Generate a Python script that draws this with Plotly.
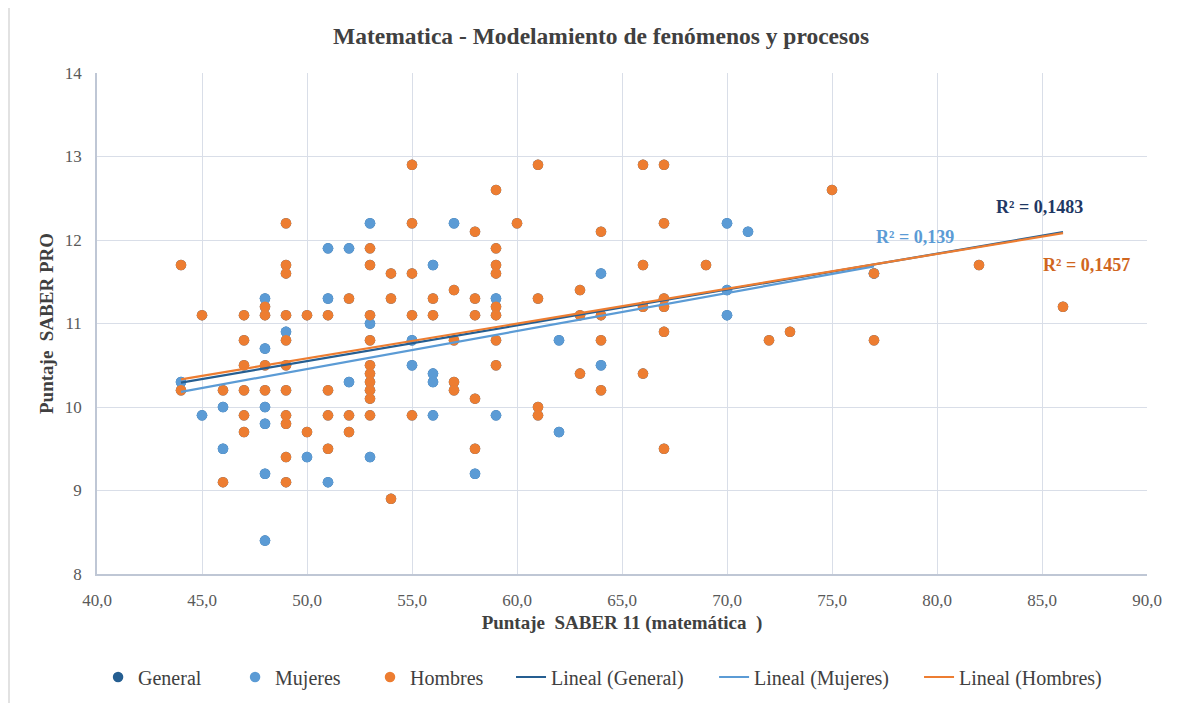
import plotly.graph_objects as go

# Mujeres (blue)
muj_x = [44, 45, 46, 46, 48, 48, 48, 48, 48, 48, 49, 50, 51, 51, 51, 52, 52, 53, 53, 53,
         55, 55, 56, 56, 56, 56, 57, 58, 59, 59, 62, 62, 64, 64, 70, 70, 70, 71, 77]
muj_y = [10.3, 9.9, 10.0, 9.5, 11.3, 10.7, 10.0, 9.8, 9.2, 8.4, 10.9, 9.4, 11.9, 11.3, 9.1, 11.9, 10.3, 12.2, 11.0, 9.4,
         10.8, 10.5, 11.7, 10.4, 10.3, 9.9, 12.2, 9.2, 11.3, 9.9, 10.8, 9.7, 11.6, 10.5, 12.2, 11.4, 11.1, 12.1, 11.6]

# Hombres (orange)
hom_x = [44, 44, 45, 46, 46, 47, 47, 47, 47, 47, 47, 48, 48, 48, 48,
         49, 49, 49, 49, 49, 49, 49, 49, 49, 49, 49, 50, 50, 51, 51, 51, 51,
         52, 52, 52, 53, 53, 53, 53, 53, 53, 53, 53, 53, 53, 54, 54, 54,
         55, 55, 55, 55, 55, 56, 56, 57, 57, 57, 57, 58, 58, 58, 58, 58,
         59, 59, 59, 59, 59, 59, 59, 59, 60, 61, 61, 61, 61, 63, 63, 63,
         64, 64, 64, 64, 66, 66, 66, 66, 67, 67, 67, 67, 67, 67, 69, 72, 73, 75, 77, 77, 82, 86]
hom_y = [11.7, 10.2, 11.1, 10.2, 9.1, 11.1, 10.8, 10.5, 10.2, 9.9, 9.7, 11.2, 11.1, 10.5, 10.2,
         12.2, 11.7, 11.6, 11.1, 10.8, 10.5, 10.2, 9.9, 9.8, 9.4, 9.1, 11.1, 9.7, 11.1, 10.2, 9.9, 9.5,
         11.3, 9.9, 9.7, 11.9, 11.7, 11.1, 10.8, 10.5, 10.4, 10.3, 10.2, 10.1, 9.9, 11.6, 11.3, 8.9,
         12.9, 12.2, 11.6, 11.1, 9.9, 11.3, 11.1, 11.4, 10.8, 10.3, 10.2, 12.1, 11.3, 11.1, 10.1, 9.5,
         12.6, 11.9, 11.7, 11.6, 11.2, 11.1, 10.8, 10.5, 12.2, 12.9, 11.3, 10.0, 9.9, 11.4, 11.1, 10.4,
         12.1, 11.1, 10.8, 10.2, 12.9, 11.7, 11.2, 10.4, 12.9, 12.2, 11.3, 11.2, 10.9, 9.5, 11.7, 10.8, 10.9, 12.6, 11.6, 10.8, 11.7, 11.2]

# General = all students
gen_x = muj_x + hom_x
gen_y = muj_y + hom_y

# Linear trend lines as displayed in the chart (General, Mujeres, Hombres)
trend_names = ["Lineal (General)", "Lineal (Mujeres)", "Lineal (Hombres)"]
trend_slope = [0.0429, 0.0455, 0.0417]
trend_intercept = [8.404, 8.18, 8.497]
r2_labels = ["R² = 0,1483", "R² = 0,139", "R² = 0,1457"]

x_ticks = [40, 45, 50, 55, 60, 65, 70, 75, 80, 85, 90]
x_tick_text = ["40,0", "45,0", "50,0", "55,0", "60,0", "65,0", "70,0", "75,0", "80,0", "85,0", "90,0"]
y_ticks = [8, 9, 10, 11, 12, 13, 14]

C_GEN = "#255E91"
C_MUJ = "#5B9BD5"
C_HOM = "#ED7D31"
FONT = "Liberation Serif"

# one legend box per entry, so the entries can be spaced like the original
legend_ids = ["legend", "legend2", "legend3", "legend4", "legend5", "legend6"]
legend_x = [0.001, 0.1315, 0.2600, 0.3943, 0.5877, 0.7829]

fig = go.Figure()
mk = dict(size=10.5, line=dict(width=0))
fig.add_trace(go.Scatter(x=gen_x, y=gen_y, mode="markers", name="General",
                         marker=dict(color=C_GEN, **mk), legend=legend_ids[0]))
fig.add_trace(go.Scatter(x=muj_x, y=muj_y, mode="markers", name="Mujeres",
                         marker=dict(color=C_MUJ, **mk), legend=legend_ids[1]))
fig.add_trace(go.Scatter(x=hom_x, y=hom_y, mode="markers", name="Hombres",
                         marker=dict(color=C_HOM, **mk), legend=legend_ids[2]))

series_x = [gen_x, muj_x, hom_x]
trend_colors = [C_GEN, C_MUJ, C_HOM]
for i, (name, m, b, xs, col) in enumerate(zip(trend_names, trend_slope, trend_intercept, series_x, trend_colors)):
    xr = [min(xs), max(xs)]
    fig.add_trace(go.Scatter(x=xr, y=[m * v + b for v in xr], mode="lines", name=name,
                             line=dict(color=col, width=2.2), legend=legend_ids[3 + i]))

ann_font = dict(family=FONT, size=18)
fig.add_annotation(x=84.9, y=12.395, text="<b>" + r2_labels[0] + "</b>", showarrow=False,
                   xanchor="center", yanchor="middle", font=dict(color="#1F3864", **ann_font))
fig.add_annotation(x=78.95, y=12.036, text="<b>" + r2_labels[1] + "</b>", showarrow=False,
                   xanchor="center", yanchor="middle", font=dict(color=C_MUJ, **ann_font))
fig.add_annotation(x=87.14, y=11.70, text="<b>" + r2_labels[2] + "</b>", showarrow=False,
                   xanchor="center", yanchor="middle", font=dict(color="#D0661E", **ann_font))

# outer chart border
fig.add_shape(type="rect", xref="paper", yref="paper", x0=-0.0838, y0=-0.40, x1=1.2, y1=1.1337,
              line=dict(color="#D9D9D9", width=1.5), fillcolor="rgba(0,0,0,0)", layer="below")

legend_style = dict(orientation="h", xanchor="left", yref="container", y=0.0374, yanchor="middle",
                    font=dict(family=FONT, size=20, color="#404040"),
                    bgcolor="rgba(0,0,0,0)", itemwidth=30)
legend_layout = {lid: dict(x=lx, **legend_style) for lid, lx in zip(legend_ids, legend_x)}

fig.update_layout(
    width=1176, height=695,
    margin=dict(l=89, r=37, t=65, b=129, autoexpand=False),
    paper_bgcolor="white", plot_bgcolor="white",
    title=dict(text="<b>Matematica - Modelamiento de fenómenos y procesos</b>",
               x=0.5043, xanchor="center", y=0.9595, yanchor="middle",
               font=dict(family=FONT, size=23.5, color="#404040")),
    font=dict(family=FONT, size=16, color="#595959"),
    showlegend=True,
    **legend_layout,
)
fig.update_xaxes(range=[40, 90], tickvals=x_ticks, ticktext=x_tick_text,
                 showgrid=True, gridcolor="#D9DEE8", gridwidth=1,
                 showline=True, linecolor="#BFC7D5", linewidth=1.5,
                 zeroline=False, ticks="", ticklabelstandoff=10,
                 tickfont=dict(family=FONT, size=17, color="#595959"),
                 title=dict(text="<b>Puntaje  SABER 11 (matemática  )</b>", standoff=7,
                            font=dict(family=FONT, size=19, color="#404040")))
fig.update_yaxes(range=[8, 14], tickvals=y_ticks,
                 showgrid=True, gridcolor="#D9DEE8", gridwidth=1,
                 showline=True, linecolor="#BFC7D5", linewidth=1.5,
                 zeroline=False, ticks="", ticklabelstandoff=10,
                 tickfont=dict(family=FONT, size=17, color="#595959"),
                 title=dict(text="<b>Puntaje  SABER PRO</b>", standoff=6,
                            font=dict(family=FONT, size=19, color="#404040")))

fig.write_html("out.html")
